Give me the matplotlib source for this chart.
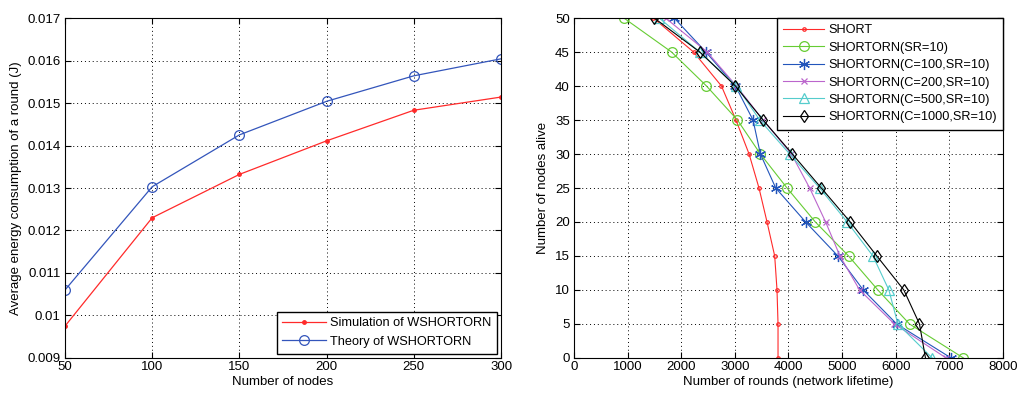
import matplotlib.pyplot as plt
import numpy as np

plt.rcParams['font.family'] = ['Liberation Sans', 'DejaVu Sans']
plt.rcParams['font.size'] = 9.5

# left panel: energy per round vs number of nodes
nodes = [50, 100, 150, 200, 250, 300]
sim_energy = [0.00975, 0.0123, 0.01332, 0.01411, 0.01483, 0.01514]
theory_energy = [0.0106, 0.01303, 0.01425, 0.01504, 0.01564, 0.01604]

# right panel: nodes alive vs rounds
alive = [50, 45, 40, 35, 30, 25, 20, 15, 10, 5, 0]
short = [1480, 2230, 2750, 3020, 3265, 3450, 3600, 3743, 3786, 3805, 3805]
shortorn = [930, 1819, 2471, 3048, 3476, 3973, 4501, 5121, 5667, 6257, 7263]
c100 = [1868, 2460, 3011, 3339, 3476, 3762, 4320, 4922, 5395, 6018, 7033]
c200 = [1707, 2483, 3030, 3526, 4054, 4395, 4693, 4960, 5326, 5977, 6940]
c500 = [1589, 2346, 3030, 3464, 4022, 4581, 5095, 5575, 5872, 6040, 6680]
c1000 = [1496, 2346, 3011, 3526, 4072, 4612, 5152, 5648, 6151, 6443, 6555]

fig = plt.figure(figsize=(10.25, 3.96), dpi=100)
ax1 = fig.add_axes([0.0634, 0.096, 0.4254, 0.8585])
ax2 = fig.add_axes([0.560, 0.096, 0.4185, 0.8585])

ax1.plot(nodes, sim_energy, color='#ff2a2a', marker='.', markersize=5, lw=0.9,
         label='Simulation of WSHORTORN')
ax1.plot(nodes, theory_energy, color='#3355bb', marker='o', markersize=7, mfc='none',
         mew=0.9, lw=0.9, label='Theory of WSHORTORN')
ax1.set_xlim(50, 300)
ax1.set_ylim(0.009, 0.017)
ax1.set_xticks(nodes)
ax1.set_yticks(np.arange(0.009, 0.0171, 0.001))
ax1.set_yticklabels(['0.009', '0.01', '0.011', '0.012', '0.013', '0.014', '0.015', '0.016', '0.017'])
ax1.set_xlabel('Number of nodes', labelpad=2)
ax1.set_ylabel('Average energy consumption of a round (J)', labelpad=4)
ax1.legend(loc='lower right', fancybox=False, edgecolor='black', framealpha=1,
           borderaxespad=0.35, handlelength=3.4, labelspacing=0.5, fontsize=9.2,
           borderpad=0.45, handletextpad=0.3)

series = [
    (short, 'SHORT', '#ff2a2a', '.', 5),
    (shortorn, 'SHORTORN(SR=10)', '#66cc33', 'o', 7),
    (c100, 'SHORTORN(C=100,SR=10)', '#2255bb', (6, 2, 0), 8),
    (c200, 'SHORTORN(C=200,SR=10)', '#bb66cc', 'x', 4),
    (c500, 'SHORTORN(C=500,SR=10)', '#55cccc', '^', 7),
    (c1000, 'SHORTORN(C=1000,SR=10)', 'black', 'd', 6),
]
for xs, lab, col, mk, ms in series:
    ax2.plot(xs, alive, color=col, marker=mk, markersize=ms, mfc='none', mec=col,
             mew=0.9, lw=0.8, label=lab)
ax2.set_xlim(0, 8000)
ax2.set_ylim(0, 50)
ax2.set_xticks(np.arange(0, 8001, 1000))
ax2.set_yticks(np.arange(0, 51, 5))
ax2.set_xlabel('Number of rounds (network lifetime)', labelpad=2)
ax2.set_ylabel('Number of nodes alive', labelpad=4)
ax2.legend(loc='upper right', fancybox=False, edgecolor='black', framealpha=1,
           borderaxespad=0.0, handlelength=3.2, labelspacing=0.42, fontsize=9.2,
           borderpad=0.5, handletextpad=0.3)

for ax in (ax1, ax2):
    ax.grid(True, linestyle=(0, (1, 3)), color='black', lw=0.7)
    ax.tick_params(direction='in', top=True, right=True, length=4, pad=2)
    ax.tick_params(axis='y', pad=3)
    for s in ax.spines.values():
        s.set_linewidth(0.8)

fig.savefig('out.png', dpi=100)
